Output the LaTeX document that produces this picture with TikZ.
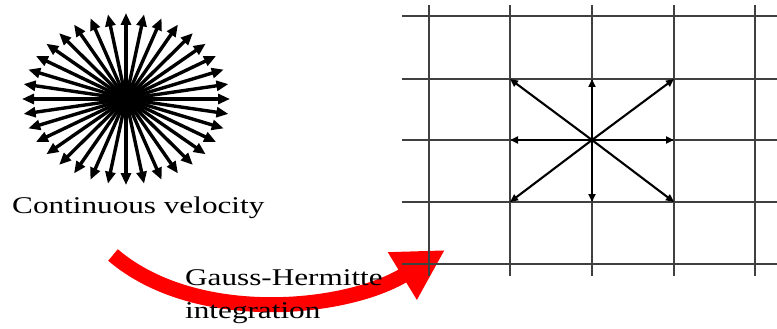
\documentclass[tikz,border=0pt]{standalone}
\usepackage{fontspec}
\setmainfont{Liberation Serif}
\usetikzlibrary{arrows.meta,calc}
\begin{document}
\begin{tikzpicture}[x=1pt,y=-1pt,
  gridline/.style={draw=black!75, line width=1.2pt},
  burst/.style={line width=3.4pt, -{Triangle[length=12pt,width=10pt]}},
  vel/.style={line width=2.1pt, -{Triangle[length=8pt,width=7pt]}},
  lbl/.style={font=\fontsize{24}{24}\selectfont, inner sep=0pt, anchor=base west},
  bigarrow/.style={draw=red, line width=15pt, -{Triangle[length=50pt,width=52pt]}}]
\useasboundingbox (0,0) rectangle (777,329);
% continuous velocity burst
\coordinate (bc) at (126,99);
\foreach \a in {0,10,...,350}{
  \coordinate (b\a) at ($(bc)+({104*cos(\a)},{86*sin(\a)})$);
  \draw[burst] (bc) -- (b\a);
}
\node[lbl] (cv) at (12,213) {\scalebox{1.3}[1]{Continuous velocity}};
% red arrow
\coordinate (rs) at (113,255);
\coordinate (rt) at (445,250);
\draw[bigarrow] (rs) .. controls (195,325) and (345,311) .. (rt);
\node[lbl] (gh1) at (185,285) {\scalebox{1.3}[1]{Gauss-Hermitte}};
\node[lbl] (gh2) at (185,318) {\scalebox{1.3}[1]{integration}};
% grid
\foreach \x in {429,510,592,674,755}{
  \draw[gridline] (\x,5) -- (\x,276);
}
\foreach \y in {16,79,140,202,264}{
  \draw[gridline] (402,\y) -- (777,\y);
}
% discrete velocities
\coordinate (gc) at (592,140);
\coordinate (g1) at (510,79);
\coordinate (g2) at (592,79);
\coordinate (g3) at (674,79);
\coordinate (g4) at (510,140);
\coordinate (g5) at (674,140);
\coordinate (g6) at (510,202);
\coordinate (g7) at (592,202);
\coordinate (g8) at (674,202);
\foreach \i in {1,...,8}{
  \draw[vel] (gc) -- (g\i);
}
\end{tikzpicture}
\end{document}
